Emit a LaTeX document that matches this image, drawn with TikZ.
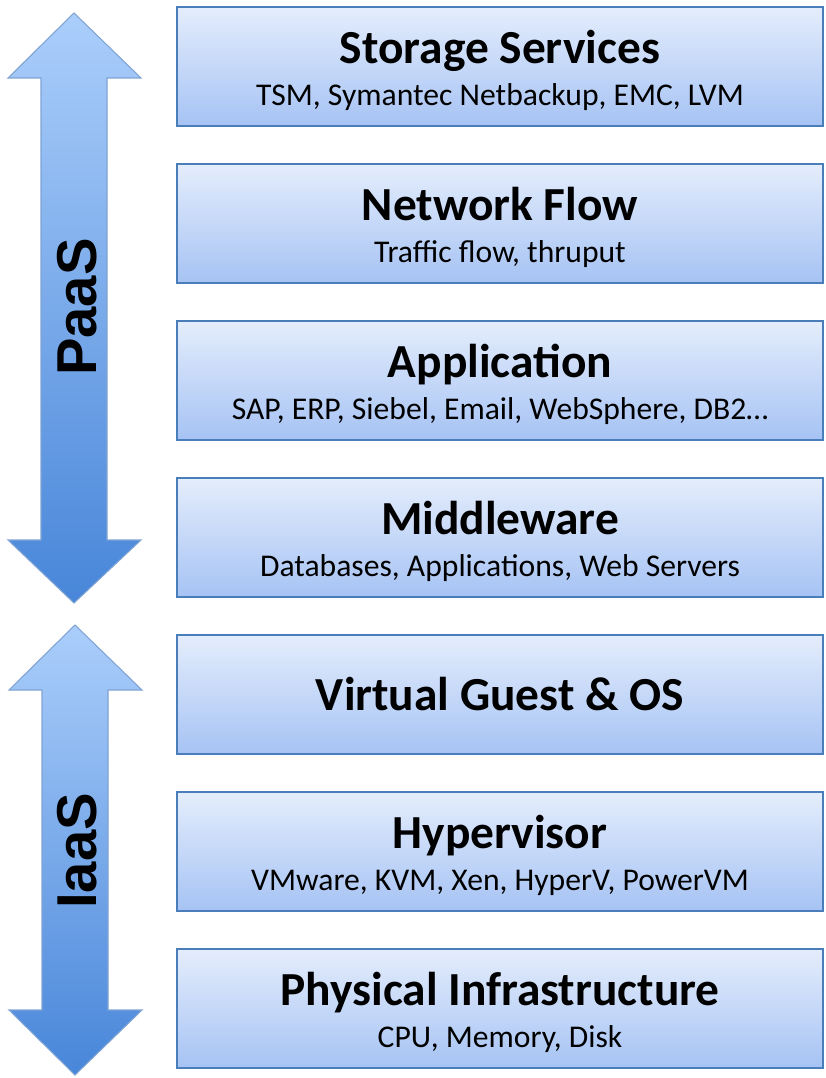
\documentclass[tikz,border=0pt]{standalone}
\usepackage{fontspec}
\setmainfont{Carlito}
\newfontfamily\arialfont{Liberation Sans}
\usepackage{tikz}
\usetikzlibrary{positioning}

\definecolor{boxtop}{HTML}{E4EDFC}
\definecolor{boxbot}{HTML}{A6C3F4}
\definecolor{boxline}{HTML}{4A7EBB}
\definecolor{arrtop}{HTML}{ABCEFB}
\definecolor{arrbot}{HTML}{4886D9}
\definecolor{arrline}{HTML}{7FA3D3}

\tikzset{
  layer/.style={draw=boxline, line width=1.2pt, top color=boxtop, bottom color=boxbot,
    minimum width=12.92cm, minimum height=2.38cm, inner sep=0pt},
  layertitle/.style={font=\fontsize{27}{30}\selectfont\bfseries, anchor=base},
  layerdetail/.style={font=\fontsize{18}{20}\selectfont, anchor=base},
  tier/.style={font=\arialfont\fontsize{32}{34}\selectfont\bfseries, rotate=90},
  bigarrow/.style={draw=arrline, line width=0.6pt, top color=arrtop, bottom color=arrbot},
}

\begin{document}
\begin{tikzpicture}[x=0.02cm, y=-0.02cm]
        \useasboundingbox (0,0) rectangle (825,1078);

        % double arrows on the left
        \shade[bigarrow] (74,13) -- (141,78) -- (107,78) -- (107,540) -- (141,540) -- (74,603)
            -- (8,540) -- (41,540) -- (41,78) -- (8,78) -- cycle;
        \shade[bigarrow] (75,625) -- (142,690) -- (108,690) -- (108,1010) -- (142,1010) -- (75,1075)
            -- (9,1010) -- (42,1010) -- (42,690) -- (9,690) -- cycle;
        \node[tier] (paas) at (77,307) {PaaS};
        \node[tier] (iaas) at (77,851) {IaaS};

        % layers
        \node[layer] (storage) at (500,66.5) {};
        \node[layer] (network) at (500,223.5) {};
        \node[layer] (application) at (500,380.5) {};
        \node[layer] (middleware) at (500,537.5) {};
        \node[layer] (guest) at (500,694.5) {};
        \node[layer] (hypervisor) at (500,851.5) {};
        \node[layer] (physical) at (500,1008.5) {};

        \node[layertitle] (storaget) at ([yshift=-1.15cm]storage.north) {Storage Services};
        \node[layerdetail] (storaged) at ([yshift=-1.99cm]storage.north) {TSM, Symantec Netbackup, EMC, LVM};
        \node[layertitle] (networkt) at ([yshift=-1.15cm]network.north) {Network Flow};
        \node[layerdetail] (networkd) at ([yshift=-1.99cm]network.north) {Traffic flow, thruput};
        \node[layertitle] (applicationt) at ([yshift=-1.15cm]application.north) {Application};
        \node[layerdetail] (applicationd) at ([yshift=-1.99cm]application.north) {SAP, ERP, Siebel, Email, WebSphere, DB2…};
        \node[layertitle] (middlewaret) at ([yshift=-1.15cm]middleware.north) {Middleware};
        \node[layerdetail] (middlewared) at ([yshift=-1.99cm]middleware.north) {Databases, Applications, Web Servers};
        \node[layertitle] (guestt) at ([yshift=-1.54cm]guest.north) {Virtual Guest \& OS};
        \node[layertitle] (hypervisort) at ([yshift=-1.15cm]hypervisor.north) {Hypervisor};
        \node[layerdetail] (hypervisord) at ([yshift=-1.99cm]hypervisor.north) {VMware, KVM, Xen, HyperV, PowerVM};
        \node[layertitle] (physicalt) at ([yshift=-1.15cm]physical.north) {Physical Infrastructure};
        \node[layerdetail] (physicald) at ([yshift=-1.99cm]physical.north) {CPU, Memory, Disk};

\end{tikzpicture}
\end{document}
